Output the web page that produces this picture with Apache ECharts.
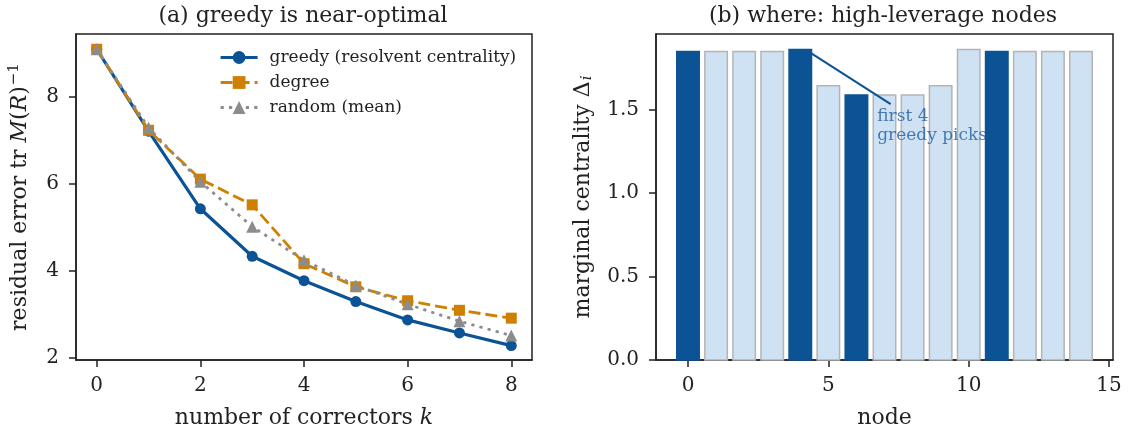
<!DOCTYPE html>
<html>
<head>
<meta charset="utf-8">
<script src="https://cdn.jsdelivr.net/npm/echarts@6/dist/echarts.min.js"></script>
<style>
html,body{margin:0;padding:0;background:#fff;}
#c{width:1128px;height:434px;}
</style>
</head>
<body>
<div id="c"></div>
<script>
// ---- data ----
const kValues = [0, 1, 2, 3, 4, 5, 6, 7, 8];
const greedy = [9.08, 7.20, 5.42, 4.33, 3.77, 3.29, 2.87, 2.57, 2.28];
const degree = [9.08, 7.22, 6.10, 5.51, 4.16, 3.63, 3.31, 3.09, 2.91];
const randomMean = [9.08, 7.28, 6.04, 5.01, 4.24, 3.66, 3.23, 2.84, 2.51];

const nodes = [0, 1, 2, 3, 4, 5, 6, 7, 8, 9, 10, 11, 12, 13, 14];
const centrality = [1.846, 1.846, 1.846, 1.846, 1.858, 1.642, 1.586, 1.586, 1.586, 1.642, 1.858, 1.846, 1.846, 1.846, 1.846];
const greedyPicks = [0, 4, 6, 11];

const leftXTicks = [0, 2, 4, 6, 8];
const leftYTicks = [2, 4, 6, 8];
const rightXTicks = [0, 5, 10, 15];
const rightYTicks = [0, 0.5, 1.0, 1.5];

const annotText = 'first 4\ngreedy picks';
const annotTextAt = [6.74, 1.515];
const annotArrowFrom = [7.22, 1.531];
const annotArrowTo = [4.38, 1.836];

// ---- style ----
const FONT = 'DejaVu Serif';
const INK = '#222222';
const BLUE = '#0b5394';
const ORANGE = '#d08000';
const GRAY = '#8c8c8c';
const LIGHT = '#cfe2f3';
const EDGE = '#b4b4b4';

const chart = echarts.init(document.getElementById('c'), null, {renderer: 'canvas'});

function axisCommon() {
  return {
    axisLine: {show: true, onZero: false, lineStyle: {color: INK, width: 1.5}},
    splitLine: {show: false},
    nameTextStyle: {fontFamily: FONT, fontSize: 22, color: INK},
  };
}
function ticks(vals) {
  return {show: true, inside: false, length: 7, customValues: vals, lineStyle: {color: INK, width: 1.5}};
}

const option = {
  animation: false,
  backgroundColor: '#fff',
  title: [
    {text: '(a) greedy is near-optimal', left: 298, top: 0, textAlign: 'center',
     textStyle: {fontFamily: FONT, fontSize: 22, fontWeight: 'normal', color: INK}},
    {text: '(b) where: high-leverage nodes', left: 878, top: 0, textAlign: 'center',
     textStyle: {fontFamily: FONT, fontSize: 22, fontWeight: 'normal', color: INK}}
  ],
  grid: [
    {left: 76, top: 34, width: 456, height: 328, show: true, borderColor: INK, borderWidth: 1.5, backgroundColor: 'transparent'},
    {left: 656, top: 34, width: 457, height: 328, show: true, borderColor: INK, borderWidth: 1.5, backgroundColor: 'transparent'}
  ],
  legend: {
    left: 214, top: 44, orient: 'vertical',
    itemWidth: 37, itemHeight: 16, itemGap: 8,
    lineStyle: {width: 'inherit', type: 'inherit'},
    textStyle: {fontFamily: FONT, fontSize: 17, color: INK, padding: [0, 0, 0, 7]},
    data: ['greedy (resolvent centrality)', 'degree', 'random (mean)']
  },
  xAxis: [
    Object.assign(axisCommon(), {
      type: 'value', gridIndex: 0, min: -0.4, max: 8.4,
      axisTick: ticks(leftXTicks),
      axisLabel: {customValues: leftXTicks, fontFamily: FONT, fontSize: 20, color: INK, margin: 16},
      name: '{t|number of correctors }{i|k}', nameLocation: 'middle', nameGap: 47,
      nameTextStyle: {rich: {
        t: {fontFamily: FONT, fontSize: 22, color: INK},
        i: {fontFamily: FONT, fontSize: 22, color: INK, fontStyle: 'italic'}
      }}
    }),
    Object.assign(axisCommon(), {
      type: 'value', gridIndex: 1, min: -1.14, max: 15.14,
      axisTick: ticks(rightXTicks),
      axisLabel: {customValues: rightXTicks, fontFamily: FONT, fontSize: 20, color: INK, margin: 16},
      name: 'node', nameLocation: 'middle', nameGap: 47
    })
  ],
  yAxis: [
    Object.assign(axisCommon(), {
      type: 'value', gridIndex: 0, min: 1.95, max: 9.43,
      axisTick: ticks(leftYTicks),
      axisLabel: {customValues: leftYTicks, fontFamily: FONT, fontSize: 20, color: INK, margin: 17},
      name: '{t|residual error tr }{i|M}{t|(}{i|R}{t|)}{s|−1}', nameLocation: 'middle', nameGap: 42,
      nameTextStyle: {rich: {
        t: {fontFamily: FONT, fontSize: 22, color: INK},
        i: {fontFamily: FONT, fontSize: 22, color: INK, fontStyle: 'italic'},
        s: {fontFamily: FONT, fontSize: 15, color: INK, verticalAlign: 'top', padding: [0, 0, 12, 1]}
      }}
    }),
    Object.assign(axisCommon(), {
      type: 'value', gridIndex: 1, min: 0, max: 1.951,
      axisTick: ticks(rightYTicks),
      axisLabel: {customValues: rightYTicks, fontFamily: FONT, fontSize: 20, color: INK, margin: 17,
                  formatter: v => Number(v).toFixed(1)},
      name: '{t|marginal centrality Δ}{s|i}', nameLocation: 'middle', nameGap: 61,
      nameTextStyle: {rich: {
        t: {fontFamily: FONT, fontSize: 22, color: INK},
        s: {fontFamily: FONT, fontSize: 15, color: INK, fontStyle: 'italic', padding: [8, 0, 0, 1]}
      }}
    })
  ],
  series: [
    {
      name: 'greedy (resolvent centrality)', type: 'line', xAxisIndex: 0, yAxisIndex: 0,
      data: kValues.map((k, i) => [k, greedy[i]]),
      symbol: 'circle', symbolSize: 11,
      lineStyle: {color: BLUE, width: 3.2},
      itemStyle: {color: BLUE}
    },
    {
      name: 'degree', type: 'line', xAxisIndex: 0, yAxisIndex: 0,
      data: kValues.map((k, i) => [k, degree[i]]),
      symbol: 'rect', symbolSize: 11,
      lineStyle: {color: ORANGE, width: 2.8, type: [12, 5]},
      itemStyle: {color: ORANGE}
    },
    {
      name: 'random (mean)', type: 'line', xAxisIndex: 0, yAxisIndex: 0,
      data: kValues.map((k, i) => [k, randomMean[i]]),
      symbol: 'triangle', symbolSize: 12,
      lineStyle: {color: GRAY, width: 2.8, type: [3.2, 5.2]},
      itemStyle: {color: GRAY}
    },
    {
      name: 'centrality', type: 'custom', xAxisIndex: 1, yAxisIndex: 1,
      data: nodes.map((n, i) => [n, centrality[i]]),
      renderItem: function (params, api) {
        const x = api.value(0), y = api.value(1);
        const half = 0.4;
        const p0 = api.coord([x - half, y]);
        const p1 = api.coord([x + half, 0]);
        const picked = greedyPicks.indexOf(x) >= 0;
        return {
          type: 'rect',
          shape: {x: p0[0], y: p0[1], width: p1[0] - p0[0], height: p1[1] - p0[1]},
          style: {fill: picked ? BLUE : LIGHT, stroke: picked ? BLUE : EDGE, lineWidth: 1.5}
        };
      },
      z: 2
    },
    {
      name: 'annotArrow', type: 'line', xAxisIndex: 1, yAxisIndex: 1,
      data: [annotArrowFrom, annotArrowTo],
      symbol: 'none', lineStyle: {color: BLUE, width: 2}, z: 5, silent: true
    },
    {
      name: 'annotText', type: 'scatter', xAxisIndex: 1, yAxisIndex: 1,
      data: [annotTextAt], symbolSize: 0, z: 6, silent: true,
      label: {show: true, position: [0, 0], align: 'left', verticalAlign: 'top',
              formatter: annotText, fontFamily: FONT, fontSize: 17, lineHeight: 19, color: '#1f5ea3'}
    }
  ]
};
chart.setOption(option);
</script>
</body>
</html>
